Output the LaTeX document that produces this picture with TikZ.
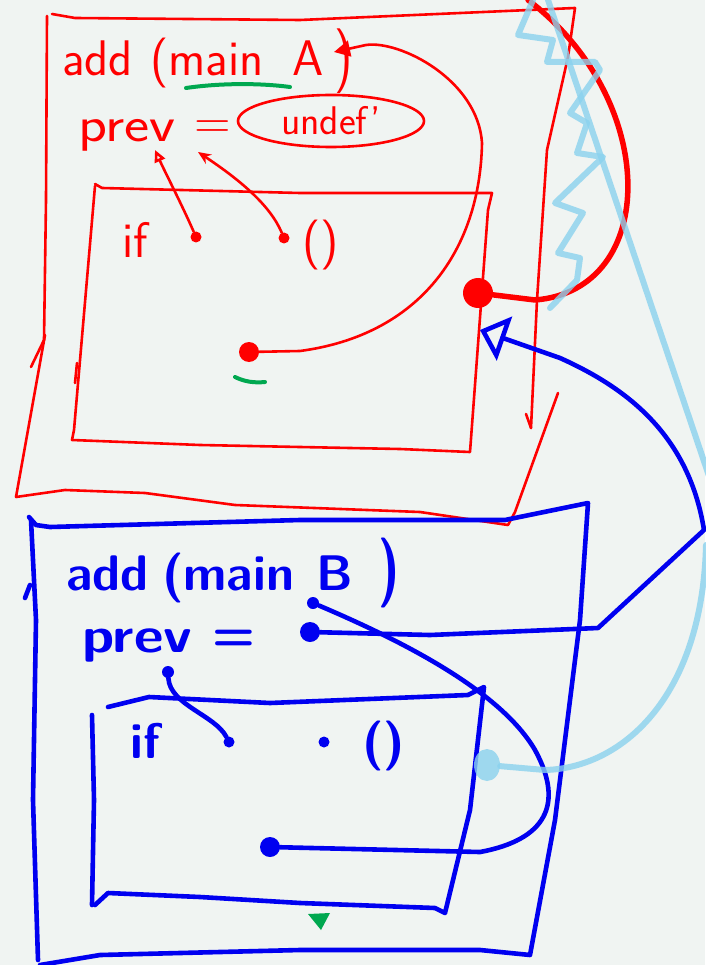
\documentclass[tikz,border=0pt]{standalone}
\usetikzlibrary{arrows.meta,positioning,shapes.geometric}
\definecolor{paper}{HTML}{F0F4F2}
\definecolor{inkred}{HTML}{FF0000}
\definecolor{inkblue}{HTML}{0000F0}
\definecolor{inkgreen}{HTML}{00A850}
\definecolor{inksky}{HTML}{8AD2EE}
\newcommand{\handfont}{\fontsize{50}{54}\selectfont\sffamily}
\tikzset{
  redpen/.style={draw=inkred, line width=2.6pt},
  redfat/.style={draw=inkred, line width=5.5pt},
  bluepen/.style={draw=inkblue, line width=4.6pt},
  skypen/.style={draw=inksky, line width=6pt, opacity=0.8},
  greenpen/.style={draw=inkgreen, line width=4pt},
  redtext/.style={font=\handfont, text=inkred, inner sep=0pt, anchor=base west},
  bluetext/.style={font=\handfont\bfseries, text=inkblue, inner sep=0pt, anchor=base west},
  reddot/.style={ellipse, fill=inkred, inner sep=0pt, minimum size=#1},
  bluedot/.style={ellipse, fill=inkblue, inner sep=0pt, minimum size=#1},
  skyblob/.style={ellipse, fill=inksky, opacity=0.8, inner sep=0pt, minimum width=26pt, minimum height=32pt},
}
\begin{document}
\begin{tikzpicture}[x=1pt,y=-1pt,line cap=round,line join=round]
  \fill[paper] (0,0) rectangle (705,965);
  \useasboundingbox (0,0) rectangle (705,965);

  % frame of main A
  \draw[redpen] (52,14) -- (75,18) -- (300,20) -- (575,8) -- (568,57) -- (547,150) -- (537,300) -- (531,428);
  \draw[redpen] (526,414) -- (531,428);
  \draw[redpen] (47,16) -- (46,200) -- (44,340) -- (31,367);
  \draw[redpen] (45,335) -- (16,497) -- (65,490) -- (145,493) -- (235,505) -- (420,512) -- (508,525) -- (515,512) -- (558,393);
  \draw[redpen] (95,184) -- (102,188) -- (300,193) -- (492,193) -- (488,210) -- (470,452) -- (400,449) -- (200,445) -- (72,440) -- (74,430) -- (95,186);
  \draw[redpen] (77,363) -- (75,383);

  \node[redtext] (radd) at (62,76) {add};
  \node[redtext] (rmain) at (150,76) {(main};
  \node[redtext] (rA) at (292,76) {A};
  \node[redtext] (rclose) at (334,78) {\scalebox{1}[1.3]{)}};
  \node[redtext] (rprev) at (78,142) {\scalebox{1.2}[1]{prev}};
  \node[redtext] (req) at (194,139) {=};
  \node[ellipse, draw=inkred, line width=2.6pt, minimum width=186pt, minimum height=52pt,
        inner sep=0pt, text=inkred, font=\fontsize{40}{44}\selectfont\sffamily] (rundef) at (331,121) {undef'};
  \node[redtext] (rif) at (122,258) {if};
  \node[redtext] (rparen) at (302,258) {()};

  \node[reddot=11pt] (rifdot) at (196,237) {};
  \node[reddot=11pt] (rcalldot) at (284,238) {};
  \node[reddot=20pt] (rretdot) at (249,352) {};
  \node[reddot=30pt] (rbigdot) at (478,293) {};
  \coordinate (rprevtip1) at (155,150);
  \coordinate (rprevtip2) at (198,152);
  \coordinate (rAtip) at (334,52);
  \coordinate (rfatend) at (528,0);

  \draw[redpen,-{Triangle[open,length=12pt,width=11pt]}] (rifdot) .. controls (182,205) and (165,172) .. (rprevtip1);
  \draw[redpen,-{Stealth[length=13pt,width=11pt]}] (rcalldot) .. controls (270,205) and (240,180) .. (rprevtip2);
  \draw[redpen,-{Triangle[length=16pt,width=16pt]}] (rretdot) -- (300,351) .. controls (420,335) and (480,250) .. (482,143)
    .. controls (478,80) and (400,40) .. (366,45) -- (rAtip);
  \draw[redfat] (rbigdot) -- (535,300) .. controls (660,290) and (660,100) .. (rfatend);

  % green marks
  \draw[greenpen] (186,88) .. controls (220,83) and (260,83) .. (290,87);
  \draw[greenpen] (235,377) .. controls (245,382) and (255,383) .. (265,382);
  \fill[inkgreen] (308,914) -- (330,913) -- (321,930) -- cycle;

  % frame of main B
  \draw[bluepen] (29,517) -- (36,525) -- (50,527) -- (300,520) -- (505,520) -- (588,503) -- (580,620) -- (555,820) -- (530,955)
    -- (480,950) -- (300,950) -- (100,955) -- (40,965);
  \draw[bluepen] (31,520) -- (36,620) -- (33,800) -- (38,960);
  \draw[bluepen] (25,598) -- (30,585);
  \draw[bluepen] (108,707) -- (149,697) -- (270,703) -- (468,695) -- (484,687) -- (470,810) -- (445,913) -- (435,908)
    -- (300,903) -- (200,897) -- (108,893) -- (95,905);
  \draw[bluepen] (92,715) -- (94,800) -- (92,905);

  \node[bluetext] (badd) at (66,590) {add};
  \node[bluetext] (bmain) at (162,590) {(main};
  \node[bluetext] (bB) at (316,590) {B};
  \node[bluetext] (bclose) at (378,590) {\scalebox{1}[1.4]{)}};
  \node[bluetext] (bprev) at (82,652) {\scalebox{1.15}[1]{prev}};
  \node[bluetext] (beq) at (212,650) {=};
  \node[bluetext] (bif) at (130,758) {if};
  \node[bluetext] (bparen) at (362,758) {()};

  \node[bluedot=11pt] (bifdot) at (229,742) {};
  \node[bluedot=11pt] (bcalldot) at (324,742) {};
  \node[bluedot=12pt] (bprevsrc) at (168,672) {};
  \node[bluedot=20pt] (bprevdot) at (310,632) {};
  \node[bluedot=12pt] (bprevhook) at (313,603) {};
  \node[bluedot=20pt] (bretdot) at (270,847) {};
  \coordinate (bturn) at (598,628);
  \coordinate (bedge) at (704,530);
  \coordinate (rboxin) at (480,330);

  \draw[bluepen] (bprevsrc) .. controls (170,705) and (215,715) .. (bifdot);
  \draw[bluepen] (bprevhook) .. controls (400,640) and (500,690) .. (535,750) .. controls (565,805) and (545,840) .. (480,852) -- (bretdot);
  \draw[bluepen,-{Triangle[open,length=26pt,width=46pt]}] (bprevdot) -- (430,635) -- (bturn) -- (bedge)
    .. controls (688,430) and (620,385) .. (560,358) -- (rboxin);

  % light blue strokes on top
  \draw[skypen] (533,0) -- (518,35) -- (553,40) -- (547,62) -- (595,62) -- (600,70) -- (570,113) -- (587,123) -- (577,153)
    -- (603,157) -- (555,203) -- (583,213) -- (558,253) -- (580,258) -- (577,280) -- (550,308);
  \draw[skypen] (548,0) -- (712,485);
  \node[skyblob] (skyend) at (487,765) {};
  \coordinate (skyin) at (706,545);
  \draw[skypen] (skyin) .. controls (702,700) and (620,768) .. (545,770) -- (skyend);
\end{tikzpicture}
\end{document}
